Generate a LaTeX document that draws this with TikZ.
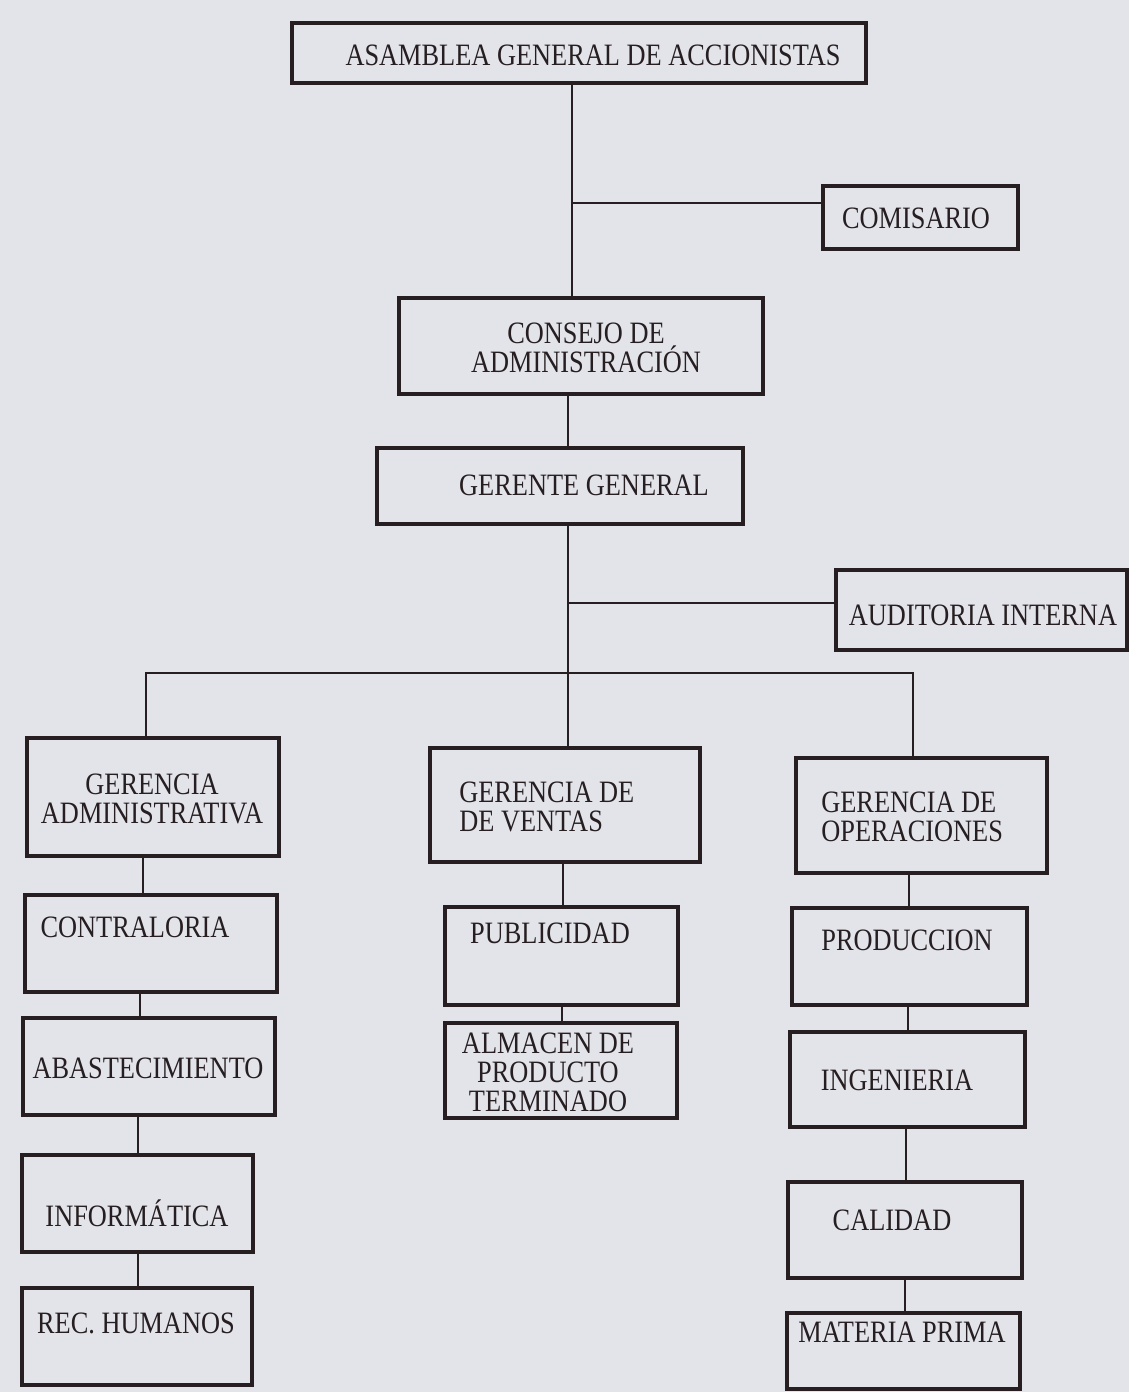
\documentclass[tikz,border=0pt]{standalone}
\usepackage{fontspec}
\setmainfont{Liberation Serif}
\usetikzlibrary{positioning, fit, calc}
\definecolor{paper}{RGB}{226,228,234}
\definecolor{ink}{RGB}{38,30,32}

\begin{document}
\begin{tikzpicture}[x=0.02cm, y=-0.02cm, font=\fontsize{15}{14}\selectfont,
    box/.style={draw=ink, line width=2pt, inner sep=0pt},
    txt/.style={inner sep=0pt, align=center, text=ink, yscale=1.18, transform shape},
    wire/.style={draw=ink, line width=1.1pt}]
    \fill[paper] (0,0) rectangle (1129,1392);
    \useasboundingbox (0,0) rectangle (1129,1392);

    % top of the chart
    \node[box, fit={(292,23) (866,83)}] (asam) {};
    \node[box, fit={(823,186) (1018,249)}] (comis) {};
    \node[box, fit={(399,298) (763,394)}] (consejo) {};
    \node[box, fit={(377,448) (743,524)}] (gerente) {};
    \node[box, fit={(836,570) (1127,650)}] (audit) {};

    \node[txt] (asamt) at (593,55) {ASAMBLEA GENERAL DE ACCIONISTAS};
    \node[txt] (comist) at (916,218) {COMISARIO};
    \node[txt] (consejot) at (586,348) {CONSEJO DE\\ADMINISTRACIÓN};
    \node[txt] (gerentet) at (584,485) {GERENTE GENERAL};
    \node[txt] (auditt) at (983,615) {AUDITORIA INTERNA};

    % gerencias
    \node[box, fit={(27,738) (279,856)}] (gadm) {};
    \node[box, fit={(430,748) (700,862)}] (gven) {};
    \node[box, fit={(796,758) (1047,873)}] (gope) {};

    \node[txt] (gadmt) at (152,799) {GERENCIA\\ADMINISTRATIVA};
    \node[txt, align=left, anchor=west] (gvent) at (459,807) {GERENCIA DE\\DE VENTAS};
    \node[txt, align=left, anchor=west] (gopet) at (821,817) {GERENCIA DE\\OPERACIONES};

    % departamentos
    \node[box, fit={(25,895) (277,992)}] (contra) {};
    \node[box, fit={(23,1018) (275,1115)}] (abast) {};
    \node[box, fit={(22,1155) (253,1252)}] (infor) {};
    \node[box, fit={(22,1288) (252,1385)}] (rech) {};
    \node[box, fit={(445,907) (678,1005)}] (publi) {};
    \node[box, fit={(445,1023) (677,1118)}] (almac) {};
    \node[box, fit={(792,908) (1027,1005)}] (produ) {};
    \node[box, fit={(790,1032) (1025,1127)}] (inge) {};
    \node[box, fit={(788,1182) (1022,1278)}] (calid) {};
    \node[box, fit={(787,1313) (1020,1389)}] (mater) {};

    \node[txt] (contrat) at (135,927) {CONTRALORIA};
    \node[txt] (abastt) at (148,1068) {ABASTECIMIENTO};
    \node[txt] (infort) at (137,1213) {INFORMÁTICA};
    \node[txt] (recht) at (136,1323) {REC. HUMANOS};
    \node[txt] (publit) at (550,933) {PUBLICIDAD};
    \node[txt] (almact) at (548,1072) {ALMACEN DE\\PRODUCTO\\TERMINADO};
    \node[txt] (produt) at (907,940) {PRODUCCION};
    \node[txt] (inget) at (897,1080) {INGENIERIA};
    \node[txt] (calidt) at (892,1220) {CALIDAD};
    \node[txt] (matert) at (902,1332) {MATERIA PRIMA};

    % lines
    \coordinate (j1) at (572,203);
    \coordinate (j2) at (568,603);
    \coordinate (bus) at (568,673);
    \coordinate (busl) at (146,673);
    \coordinate (busr) at (913,673);

    \draw[wire] (asam.south -| j1) -- (consejo.north -| j1);
    \draw[wire] (j1) -- (comis.west |- j1);
    \draw[wire] (consejo.south -| j2) -- (gerente.north -| j2);
    \draw[wire] (gerente.south -| j2) -- (bus);
    \draw[wire] (j2) -- (audit.west |- j2);
    \draw[wire] (gadm.north -| busl) -- (busl) -- (busr) -- (gope.north -| busr);
    \draw[wire] (bus) -- (gven.north -| bus);

    \foreach \a/\b/\xx in {gadm/contra/143, contra/abast/140, abast/infor/138, infor/rech/138,
        gven/publi/563, publi/almac/562,
        gope/produ/909, produ/inge/908, inge/calid/906, calid/mater/905}
        \draw[wire] (\a.south -| \xx,0) -- (\b.north -| \xx,0);
\end{tikzpicture}
\end{document}
